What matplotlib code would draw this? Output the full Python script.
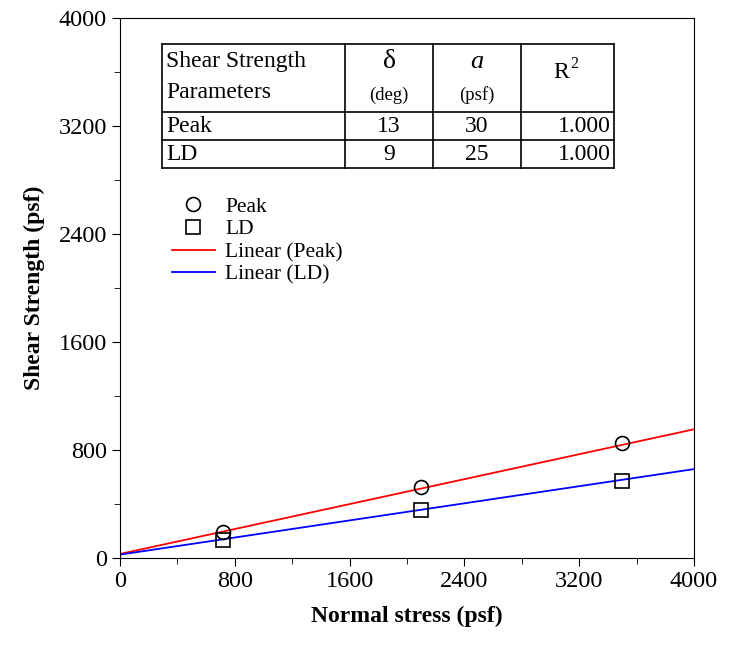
import matplotlib
matplotlib.use("Agg")
import matplotlib.pyplot as plt
import numpy as np
from matplotlib.ticker import MultipleLocator

plt.rcParams['font.family'] = ['Liberation Serif', 'DejaVu Serif']

peak_x = [720, 2100, 3500]
peak_y = [193, 526, 852]
ld_x = [720, 2100, 3500]
ld_y = [133, 356, 570]
peak_delta, peak_a = 13, 30
ld_delta, ld_a = 9, 25

fig = plt.figure(figsize=(7.32, 6.51), dpi=100)
ax = fig.add_axes([120/732, 1-558/651, 574/732, 540/651])
xs = np.array([0, 4000])
ax.plot(xs, peak_a + np.tan(np.radians(peak_delta))*xs, color='red', lw=1.3)
ax.plot(xs, ld_a + np.tan(np.radians(ld_delta))*xs, color='blue', lw=1.3)
ax.plot(peak_x, peak_y, 'o', mfc='none', mec='black', ms=10, mew=1.2)
ax.plot(ld_x, ld_y, 's', mfc='none', mec='black', ms=10, mew=1.2)
hs = ax.get_lines()
ax.legend([hs[2], hs[3], hs[0], hs[1]], ['Peak', 'LD', 'Linear (Peak)', 'Linear (LD)'],
          loc='upper left', bbox_to_anchor=(0.075, 0.685), frameon=False, fontsize=15.5,
          handlelength=2.0, labelspacing=0.12, borderaxespad=0, handletextpad=0.5)
ax.set_xlim(0, 4000); ax.set_ylim(0, 4000)
ax.set_xticks(range(0, 4001, 800)); ax.set_yticks(range(0, 4001, 800))
ax.xaxis.set_minor_locator(MultipleLocator(400))
ax.yaxis.set_minor_locator(MultipleLocator(400))
ax.tick_params(labelsize=17.5, length=6, direction='out')
ax.tick_params(which='minor', length=4)
ax.set_xlabel('Normal stress (psf)', fontsize=17, fontweight='bold', labelpad=10)
ax.set_ylabel('Shear Strength (psf)', fontsize=17, fontweight='bold', labelpad=10)

cols = [162, 345, 433, 521, 614]
rows = [44, 112, 140, 168]
def fx(p): return p/732
def fy(p): return 1-p/651
for c in cols:
    fig.add_artist(plt.Line2D([fx(c)]*2, [fy(rows[0]), fy(rows[-1])], color='black', lw=1.2))
for r in rows:
    fig.add_artist(plt.Line2D([fx(cols[0]), fx(cols[-1])], [fy(r)]*2, color='black', lw=1.2))
fs = 17
fig.text(fx(166), fy(61), 'Shear Strength', fontsize=fs, va='center')
fig.text(fx(166), fy(92), 'Parameters', fontsize=fs, va='center')
fig.text(fx(389), fy(62), 'δ', fontsize=20, ha='center', va='center')
fig.text(fx(389), fy(95), '(deg)', fontsize=13.5, ha='center', va='center')
fig.text(fx(477), fy(62), 'a', fontsize=19, style='italic', ha='center', va='center')
fig.text(fx(477), fy(95), '(psf)', fontsize=13.5, ha='center', va='center')
fig.text(fx(569), fy(72), 'R', fontsize=fs, ha='right', va='center')
fig.text(fx(570), fy(64), '2', fontsize=11.5, ha='left', va='center')
for r, lab, d, a in [(126, 'Peak', '13', '30'), (154, 'LD', '9', '25')]:
    fig.text(fx(166), fy(r), lab, fontsize=fs, va='center')
    fig.text(fx(389), fy(r), d, fontsize=fs, ha='center', va='center')
    fig.text(fx(477), fy(r), a, fontsize=fs, ha='center', va='center')
    fig.text(fx(611), fy(r), '1.000', fontsize=fs, ha='right', va='center')

fig.savefig('out.png', dpi=100)
